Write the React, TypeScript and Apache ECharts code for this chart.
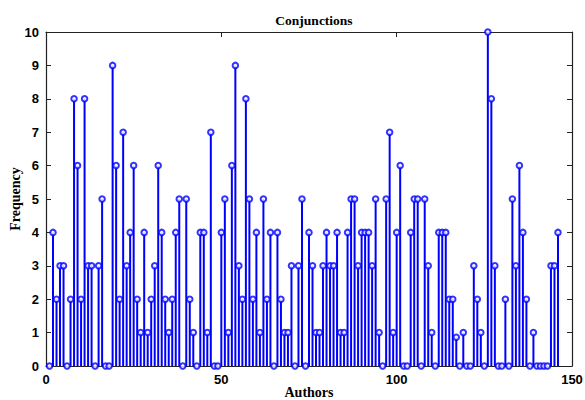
import React, { useEffect, useRef } from "react";
import * as echarts from "echarts";

const titleText = "Conjunctions";
const xAxisName = "Authors";
const yAxisName = "Frequency";
// Frequency for authors 1..146
const frequencies = [
  0, 4, 2, 3, 3, 0, 2, 8, 6, 2,
  8, 3, 3, 0, 3, 5, 0, 0, 9, 6,
  2, 7, 3, 4, 6, 2, 1, 4, 1, 2,
  3, 6, 4, 2, 1, 2, 4, 5, 0, 5,
  2, 1, 0, 4, 4, 1, 7, 0, 0, 4,
  5, 1, 6, 9, 3, 2, 8, 5, 2, 4,
  1, 5, 2, 4, 0, 4, 2, 1, 1, 3,
  0, 3, 5, 0, 4, 3, 1, 1, 3, 4,
  3, 3, 4, 1, 1, 4, 5, 5, 3, 4,
  4, 4, 3, 5, 1, 0, 5, 7, 1, 4,
  6, 0, 0, 4, 5, 5, 0, 5, 3, 1,
  0, 4, 4, 4, 2, 2, 0.86, 0, 1, 0,
  0, 3, 2, 1, 0, 10, 8, 3, 0, 0,
  2, 0, 5, 3, 6, 4, 2, 0, 1, 0,
  0, 0, 0, 3, 3, 4,
];
const xTicks = { min: 0, max: 150, interval: 50 };
const yTicks = { min: 0, max: 10, interval: 1 };

export default function App() {
  const ref = useRef<HTMLDivElement>(null);
  useEffect(() => {
    if (!ref.current) return;
    const chart = echarts.init(ref.current, undefined, { renderer: "svg" });
    const points = frequencies.map((v, i) => [i + 1, v]);
    const blue = "#0000ff";
    const axisColor = "#222";
    const tickLabel = {
      fontFamily: "Liberation Sans, Arial, sans-serif",
      fontWeight: "bold" as const,
      fontSize: 13,
      color: "#000",
    };
    const nameStyle = {
      fontFamily: "Liberation Serif, Times New Roman, serif",
      fontWeight: "bold" as const,
      fontSize: 14,
      color: "#000",
    };
    chart.setOption({
      animation: false,
      backgroundColor: "#fff",
      title: {
        text: titleText,
        left: 309,
        top: 8,
        textAlign: "center",
        textStyle: { ...nameStyle, fontSize: 13.5 },
      },
      grid: { left: 46, right: 13, top: 32, bottom: 34, containLabel: false, outerBoundsMode: "none" },
      xAxis: [
        {
          type: "value",
          ...xTicks,
          name: xAxisName,
          nameLocation: "middle",
          nameGap: 19,
          nameMoveOverlap: false,
          nameTextStyle: nameStyle,
          axisLine: { show: true, onZero: false, lineStyle: { color: axisColor, width: 1.2 } },
          axisTick: { show: true, inside: true, length: 5, lineStyle: { color: axisColor } },
          axisLabel: { ...tickLabel, margin: 7 },
          splitLine: { show: false },
        },
        {
          type: "value",
          ...xTicks,
          position: "top",
          axisLine: { show: true, onZero: false, lineStyle: { color: axisColor, width: 1.2 } },
          axisTick: { show: true, inside: true, length: 5, lineStyle: { color: axisColor } },
          axisLabel: { show: false },
          splitLine: { show: false },
        },
      ],
      yAxis: [
        {
          type: "value",
          ...yTicks,
          name: yAxisName,
          nameLocation: "middle",
          nameGap: 24,
          nameMoveOverlap: false,
          nameTextStyle: nameStyle,
          axisLine: { show: true, onZero: false, lineStyle: { color: axisColor, width: 1.2 } },
          axisTick: { show: true, inside: true, length: 5, lineStyle: { color: axisColor } },
          axisLabel: { ...tickLabel, margin: 7 },
          splitLine: { show: false },
        },
        {
          type: "value",
          ...yTicks,
          position: "right",
          axisLine: { show: true, onZero: false, lineStyle: { color: axisColor, width: 1.2 } },
          axisTick: { show: true, inside: true, length: 5, lineStyle: { color: axisColor } },
          axisLabel: { show: false },
          splitLine: { show: false },
        },
      ],
      series: [
        {
          type: "custom",
          xAxisIndex: 0,
          yAxisIndex: 0,
          data: points,
          clip: false,
          renderItem: (params: any, api: any) => {
            const x = api.value(0);
            const y = api.value(1);
            const p0 = api.coord([x, 0]);
            const p1 = api.coord([x, y]);
            return {
              type: "line",
              shape: { x1: p0[0], y1: p0[1], x2: p1[0], y2: p1[1] },
              style: { stroke: blue, lineWidth: 2 },
            };
          },
        },
        {
          type: "scatter",
          xAxisIndex: 0,
          yAxisIndex: 0,
          data: points,
          clip: false,
          symbol: "emptyCircle",
          symbolSize: 5.5,
          itemStyle: { color: blue, borderColor: blue, borderWidth: 2 },
        },
      ],
    });
    return () => chart.dispose();
  }, []);
  return (
    <div
      ref={ref}
      style={{ position: "fixed", left: 0, top: 0, width: 585, height: 400, background: "#fff" }}
    />
  );
}
